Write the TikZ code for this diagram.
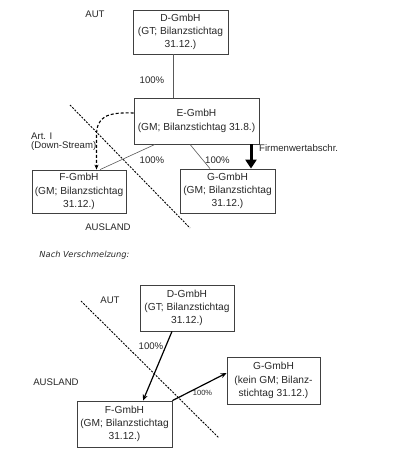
\documentclass[tikz,border=0pt]{standalone}
\usepackage{fontspec}
\setmainfont{Liberation Sans}
\newfontfamily\notefont{DejaVu Sans}
\usetikzlibrary{arrows.meta}
\tikzset{
  firm/.style={draw=black!75,line width=0.8pt,align=center,inner sep=0pt,text=black!85,
    font=\fontsize{10.2}{13.3}\selectfont},
  share/.style={draw=black!65,line width=0.6pt},
  border/.style={line width=0.9pt,dash pattern=on 2pt off 1.3pt},
  lbl/.style={inner sep=0pt,text=black!85,font=\fontsize{9.6}{11}\selectfont},
  mover/.style={line width=1.2pt,-{Stealth[length=6pt,width=5pt]}},
}
\begin{document}
\begin{tikzpicture}[x=1pt,y=-1pt]
			\useasboundingbox (0,0) rectangle (400,464);
			% vor der Verschmelzung
			\node[firm,minimum width=95pt,minimum height=44pt] (D1) at (180.5,32) {D-GmbH\\(GT; Bilanzstichtag\\31.12.)};
			\node[firm,minimum width=125pt,minimum height=46pt] (E1) at (196.5,121) {E-GmbH\\(GM; Bilanzstichtag 31.8.)};
			\node[firm,minimum width=94pt,minimum height=43pt] (F1) at (79,191.5) {F-GmbH\\(GM; Bilanzstichtag\\31.12.)};
			\node[firm,minimum width=95pt,minimum height=44pt] (G1) at (227.5,191) {G-GmbH\\(GM; Bilanzstichtag\\31.12.)};
			\node[lbl] (aut1) at (95,14) {AUT};
			\node[lbl] (ausl1) at (108,227) {AUSLAND};
			\node[lbl] (p1) at (152,80) {100\%};
			\node[lbl] (p2) at (152,160) {100\%};
			\node[lbl] (p3) at (217.5,160) {100\%};
			\node[lbl,anchor=west,align=left] (art) at (31,142) {Art. I\\[-2pt](Down-Stream)};
			\node[lbl,anchor=west] (fw) at (259,148) {Firmenwertabschr.};
			\coordinate (b1) at (70,105);
			\coordinate (b2) at (190,228);
			\draw[border] (b1) -- (b2);
			\draw[share] ([xshift=-7.5pt]D1.south) -- ([xshift=-7.5pt]D1.south |- E1.north);
			\draw[share] ([xshift=-41.5pt]E1.south) -- ([xshift=21pt]F1.north);
			\draw[share] ([xshift=-6.5pt]E1.south) -- ([xshift=-17.5pt]G1.north);
			\draw[line width=3pt,-{Triangle[length=9pt,width=11pt]}] ([xshift=54.5pt]E1.south) -- ([xshift=23.5pt]G1.north);
			\draw[line width=1.1pt,densely dashed,-{Stealth[length=5pt,width=4pt]}] ([yshift=8pt]E1.west) .. controls (106,112) and (96.5,117) .. (96.5,136) -- ([xshift=17.5pt]F1.north);
			% nach der Verschmelzung
			\node[inner sep=0pt,text=black!85,font=\notefont\itshape\fontsize{8.3}{10}\selectfont] (nach) at (84.5,255) {Nach Verschmelzung:};
			\node[firm,minimum width=94pt,minimum height=46pt] (D2) at (187,308) {D-GmbH\\(GT; Bilanzstichtag\\31.12.)};
			\node[firm,minimum width=93pt,minimum height=47pt] (G2) at (273.5,380.5) {G-GmbH\\(kein GM; Bilanz-\\stichtag 31.12.)};
			\node[firm,minimum width=95pt,minimum height=46pt] (F2) at (124.5,424) {F-GmbH\\(GM; Bilanzstichtag\\31.12.)};
			\node[lbl] (aut2) at (110,300) {AUT};
			\node[lbl] (ausl2) at (56,382) {AUSLAND};
			\node[lbl] (p4) at (151,346) {100\%};
			\node[lbl,font=\fontsize{7.5}{9}\selectfont] (p5) at (202.5,393) {100\%};
			\coordinate (b3) at (81,301);
			\coordinate (b4) at (219,438);
			\draw[border] (b3) -- (b4);
			\draw[mover] ([xshift=-15pt]D2.south) -- ([xshift=18.5pt]F2.north);
			\draw[mover] (F2.north east) -- ([yshift=7.5pt]G2.west);
		\end{tikzpicture}
\end{document}
